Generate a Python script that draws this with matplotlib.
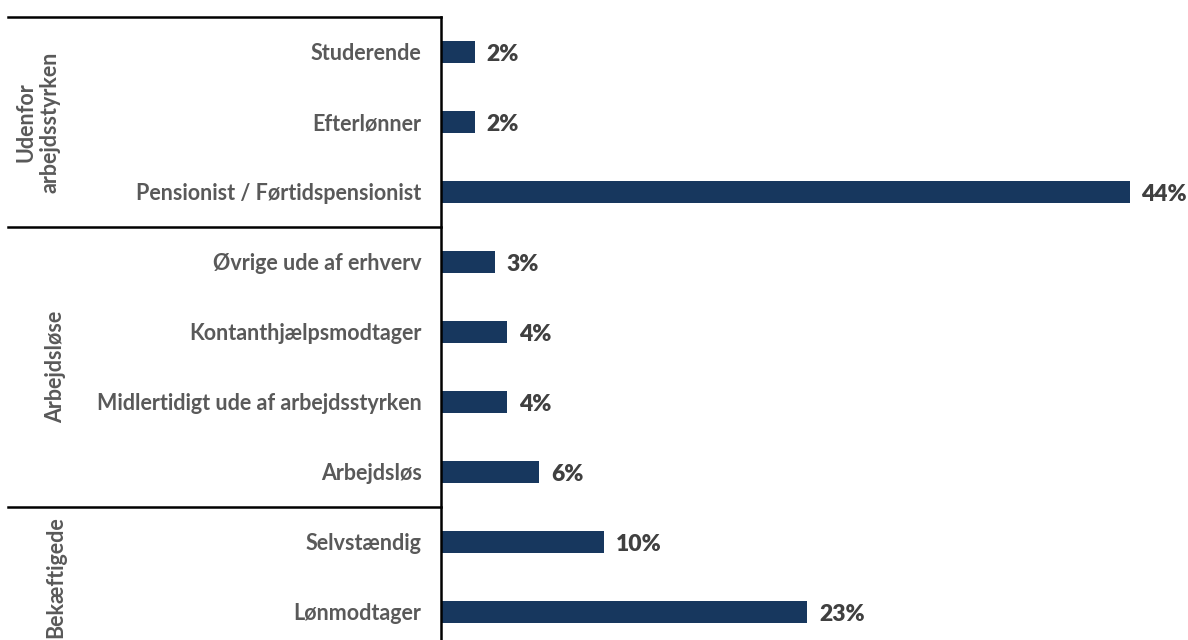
import matplotlib.pyplot as plt
import matplotlib.transforms as mtransforms

# data, top to bottom
categories = ['Studerende', 'Efterlønner', 'Pensionist / Førtidspensionist',
              'Øvrige ude af erhverv', 'Kontanthjælpsmodtager',
              'Midlertidigt ude af arbejdsstyrken', 'Arbejdsløs',
              'Selvstændig', 'Lønmodtager']
values = [2.15, 2.15, 43.6, 3.4, 4.2, 4.2, 6.2, 10.3, 23.2]
groups = ['Udenfor\narbejdsstyrken', 'Arbejdsløse', 'Bekæftigede']
group_sizes = [3, 4, 2]

bar_color = '#17375e'
label_color = '#595959'
value_color = '#404040'

plt.rcParams['font.family'] = ['Lato', 'DejaVu Sans']

fig = plt.figure(figsize=(11.88, 6.4), dpi=100)
ax = fig.add_axes([441 / 1188, 1 - 647 / 640, 1 - 441 / 1188, (647 - 17) / 640])

y = list(range(len(categories)))
ax.barh(y, values, height=0.31, color=bar_color)
ax.set_ylim(len(categories) - 0.5, -0.5)
ax.set_xlim(0, 47.3)

for yi, v in zip(y, values):
    ax.text(v + 0.75, yi + 0.03, f'{v:.0f}%', va='center', ha='left',
            fontsize=16.5, fontweight='heavy', color=value_color)

ax.set_yticks(y)
ax.set_yticklabels(categories, fontsize=15.5, fontweight='bold', color=label_color)
ax.tick_params(axis='y', length=0, pad=14)
ax.set_xticks([])

for s in ['top', 'right', 'bottom']:
    ax.spines[s].set_visible(False)
ax.spines['left'].set_linewidth(1.8)
ax.spines['left'].set_color('black')

# group separators and labels
trans = mtransforms.blended_transform_factory(ax.transAxes, ax.transData)
start = -0.5
x_left = (8 - 441) / (1188 - 441)
for g, n in zip(groups, group_sizes):
    ax.plot([x_left, 0], [start, start], color='black', lw=1.8,
            transform=trans, clip_on=False)
    mid = start + n / 2
    xg = (38 - 441) / (1188 - 441) if '\n' in g else (56 - 441) / (1188 - 441)
    ax.text(xg, mid, g, rotation=90, ha='center', va='center',
            fontsize=15.5, fontweight='bold', color=label_color,
            transform=trans, linespacing=1.15)
    start += n

fig.savefig('out.png', dpi=100)
